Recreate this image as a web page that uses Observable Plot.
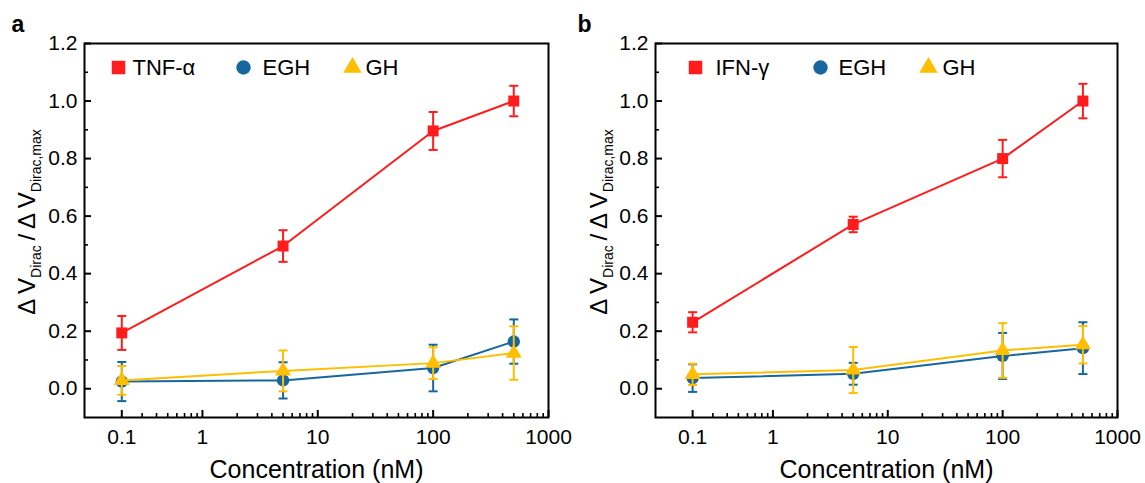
<!DOCTYPE html>
<html><head><meta charset="utf-8">
<script src="https://cdn.jsdelivr.net/npm/d3@7"></script>
<script src="https://cdn.jsdelivr.net/npm/@observablehq/plot@0.6"></script>
<style>
body{margin:0;background:#fff;}
#wrap{display:flex;width:1145px;height:483px;overflow:hidden;}
#wrap svg{overflow:visible;}
</style></head><body><div id="wrap"></div>
<script>
// ---- data ----
// x positions of the four concentrations on the log axis (the first one is labelled "0.1")
const concentrations = [0.2, 5, 100, 500];
const xTickValues = [0.2, 1, 10, 100, 1000];
const xTickLabels = ["0.1", "1", "10", "100", "1000"];
const xMinorTicks = [0.3,0.4,0.5,0.6,0.7,0.8,0.9, 2,3,4,5,6,7,8,9, 20,30,40,50,60,70,80,90, 200,300,400,500,600,700,800,900];
const yTicks = [0, 0.2, 0.4, 0.6, 0.8, 1.0, 1.2];
const yMinorTicks = [0.1, 0.3, 0.5, 0.7, 0.9, 1.1];

const panelLabels = ["a", "b"];
const seriesNamesA = ["TNF-α", "EGH", "GH"];
const seriesNamesB = ["IFN-γ", "EGH", "GH"];

const tnfMean = [0.194, 0.496, 0.896, 1.000];
const tnfErr  = [0.059, 0.055, 0.066, 0.053];
const eghMeanA = [0.025, 0.029, 0.072, 0.164];
const eghErrA  = [0.068, 0.063, 0.081, 0.077];
const ghMeanA  = [0.029, 0.062, 0.089, 0.124];
const ghErrA   = [0.050, 0.071, 0.055, 0.093];

const ifnMean = [0.231, 0.571, 0.800, 1.000];
const ifnErr  = [0.035, 0.027, 0.065, 0.060];
const eghMeanB = [0.037, 0.052, 0.114, 0.141];
const eghErrB  = [0.048, 0.038, 0.080, 0.090];
const ghMeanB  = [0.050, 0.065, 0.133, 0.153];
const ghErrB   = [0.037, 0.080, 0.095, 0.065];

const xTitle = "Concentration (nM)";

// ---- styles ----
const colors = ["#ff1c1c", "#17679e", "#ffbe00"];
const symbols = ["square", "circle", "triangle"];
const markerR = [6.2, 6.2, 5.9];
const legendR = [7.6, 7.2, 6.8];
const FONT = "'Liberation Sans', Arial, Helvetica, sans-serif";
const HEIGHT = 483, MT = 43, MB = 66;

const capSymbol = {draw(ctx, size) { const w = Math.sqrt(size / Math.PI); ctx.moveTo(-w, 0); ctx.lineTo(w, 0); }};
const labelMap = new Map(xTickValues.map((v, i) => [v, xTickLabels[i]]));

function panel({label, names, means, errs, width, marginLeft, marginRight, legend, labelDx}) {
  const plotW = width - marginLeft - marginRight;
  const plotH = HEIGHT - MT - MB;
  const marks = [];
  // inward ticks (major and minor)
  marks.push(Plot.tickX(xTickValues, {x: d => d, insetTop: plotH - 7, stroke: "#000", strokeWidth: 2}));
  marks.push(Plot.tickX(xMinorTicks, {x: d => d, insetTop: plotH - 4, stroke: "#000", strokeWidth: 1.6}));
  marks.push(Plot.tickY(yTicks, {y: d => d, insetRight: plotW - 7, stroke: "#000", strokeWidth: 2}));
  marks.push(Plot.tickY(yMinorTicks, {y: d => d, insetRight: plotW - 4, stroke: "#000", strokeWidth: 1.6}));
  names.forEach((name, k) => {
    const rows = concentrations.map((c, i) => ({c, v: means[k][i], e: errs[k][i]}));
    marks.push(Plot.line(rows, {x: "c", y: "v", stroke: colors[k], strokeWidth: 2}));
    marks.push(Plot.ruleX(rows, {x: "c", y1: d => d.v - d.e, y2: d => d.v + d.e, stroke: colors[k], strokeWidth: 2}));
    marks.push(Plot.dot(rows, {x: "c", y: d => d.v + d.e, symbol: capSymbol, r: 4.5, stroke: colors[k], strokeWidth: 2, fill: "none"}));
    marks.push(Plot.dot(rows, {x: "c", y: d => d.v - d.e, symbol: capSymbol, r: 4.5, stroke: colors[k], strokeWidth: 2, fill: "none"}));
    marks.push(Plot.dot(rows, {x: "c", y: "v", symbol: symbols[k], r: markerR[k], fill: colors[k], stroke: "none"}));
    // legend entry
    marks.push(Plot.dot([name], {frameAnchor: "top-left", dx: legend[k][0], dy: 24, symbol: symbols[k], r: legendR[k], fill: colors[k], stroke: "none"}));
    marks.push(Plot.text([name], {frameAnchor: "top-left", dx: legend[k][1], dy: 24, text: d => d, textAnchor: "start", lineAnchor: "middle", fontSize: 22, fill: "#000"}));
  });
  // axes text
  marks.push(Plot.axisY({ticks: yTicks, tickSize: 0, tickPadding: 7, tickFormat: d3.format(".1f"), fontSize: 21, label: null}));
  marks.push(Plot.axisX({ticks: xTickValues, tickSize: 0, tickPadding: 12, tickFormat: d => labelMap.get(d), fontSize: 21, label: null}));
  marks.push(Plot.frame({stroke: "#000", strokeWidth: 2}));
  // x title and panel letter
  marks.push(Plot.text([xTitle], {frameAnchor: "bottom", dy: 60, text: d => d, lineAnchor: "bottom", fontSize: 25, fill: "#000"}));
  marks.push(Plot.text([label], {frameAnchor: "top-left", dx: labelDx, dy: -12, text: d => d, textAnchor: "start", lineAnchor: "bottom", fontSize: 23, fontWeight: "bold", fill: "#000"}));

  const svg = Plot.plot({
    width, height: HEIGHT,
    marginLeft, marginRight, marginTop: MT, marginBottom: MB,
    style: {fontFamily: FONT, fontSize: "21px", color: "#000", background: "#fff", overflow: "visible"},
    x: {type: "log", domain: [0.095, 1000]},
    y: {domain: [-0.1, 1.2]},
    marks
  });

  // rotated y-axis title with subscripts
  const t = d3.select(svg).append("text")
    .attr("transform", `translate(35, 222) rotate(-90)`)
    .attr("text-anchor", "middle")
    .attr("font-family", FONT)
    .attr("font-size", 24)
    .attr("fill", "#000");
  t.append("tspan").text("Δ\u2009V");
  t.append("tspan").attr("font-size", 14).attr("dy", 6).text("Dirac");
  t.append("tspan").attr("dy", -6).text("\u2009/\u2009Δ\u2009V");
  t.append("tspan").attr("font-size", 14).attr("dy", 6).text("Dirac,max");
  return svg;
}

const wrap = document.getElementById("wrap");
wrap.appendChild(panel({
  label: panelLabels[0], names: seriesNamesA,
  means: [tnfMean, eghMeanA, ghMeanA], errs: [tnfErr, eghErrA, ghErrA],
  width: 572, marginLeft: 84, marginRight: 24,
  legend: [[34, 48], [159, 178], [268, 281]], labelDx: -73
}));
wrap.appendChild(panel({
  label: panelLabels[1], names: seriesNamesB,
  means: [ifnMean, eghMeanB, ghMeanB], errs: [ifnErr, eghErrB, ghErrB],
  width: 573, marginLeft: 83, marginRight: 28,
  legend: [[40, 60], [165, 183], [273, 287]], labelDx: -78
}));
</script>
</body></html>
